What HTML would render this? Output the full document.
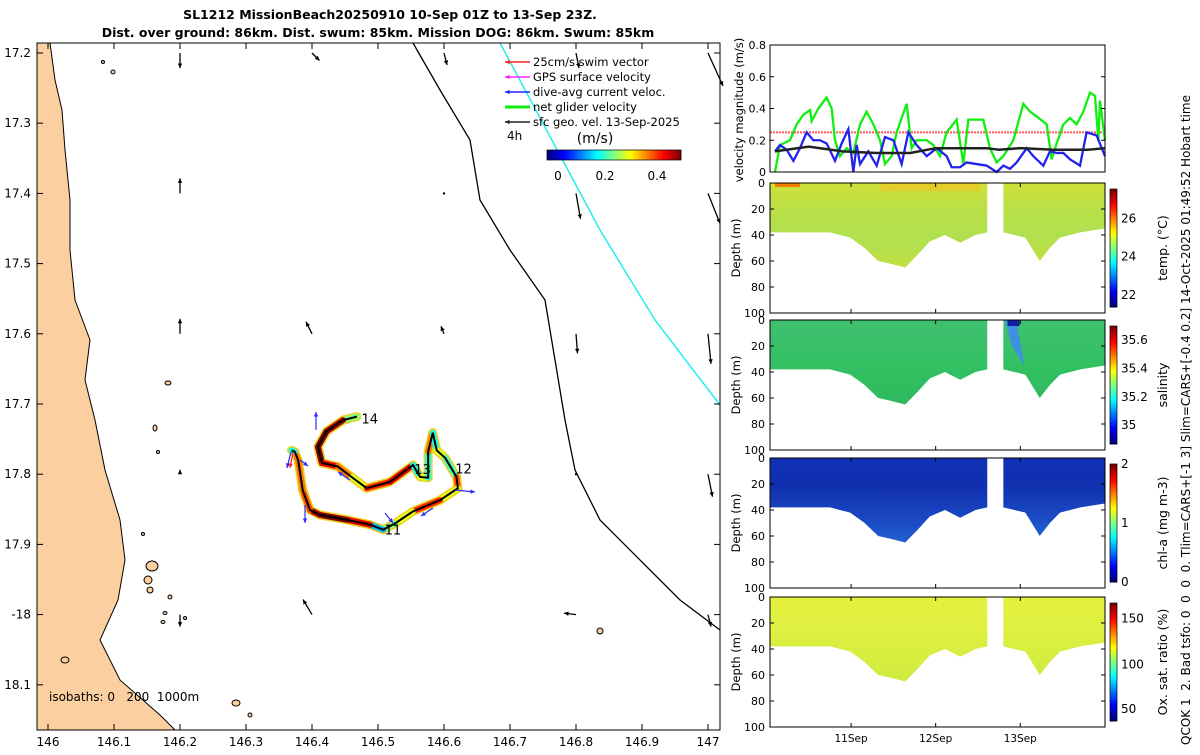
<!DOCTYPE html>
<html><head><meta charset="utf-8"><style>
body{margin:0;background:#fff;width:1200px;height:750px;overflow:hidden;font-family:"Liberation Sans","DejaVu Sans",sans-serif}
svg text{font-family:"DejaVu Sans","Liberation Sans",sans-serif;white-space:pre}
</style></head><body>
<svg id="fig" width="1200" height="750" xmlns="http://www.w3.org/2000/svg"></svg>
<script>
// ---- data ----
const trackLon=[146.468,146.447,146.422,146.409,146.415,146.439,146.460,146.483,146.518,146.553,146.564,146.576,146.576,146.583,146.589,146.602,146.619,146.621,146.594,146.553,146.526,146.508,146.488,146.453,146.412,146.397,146.386,146.379,146.374,146.369];
const trackLat=[17.718,17.723,17.739,17.761,17.784,17.789,17.804,17.820,17.811,17.787,17.804,17.805,17.768,17.741,17.766,17.777,17.804,17.820,17.837,17.853,17.870,17.879,17.872,17.865,17.858,17.851,17.823,17.780,17.768,17.766];
const trackSpeed=[0.25,0.48,0.5,0.5,0.45,0.38,0.3,0.42,0.45,0.2,0.3,0.2,0.38,0.2,0.3,0.22,0.4,0.3,0.42,0.3,0.25,0.15,0.45,0.5,0.48,0.4,0.38,0.38,0.2,0.1];
const dayLabels=["14","13","12","11"];
const dayLon=[146.475,146.555,146.617,146.510];
const dayLat=[17.728,17.800,17.799,17.886];
const geoLon=[146.2,146.4,146.6,146.8,147.0,146.2,146.6,146.8,147.0,146.2,146.4,146.6,146.8,147.0,146.2,146.8,147.0,146.2,146.4,146.8,147.0];
const geoLat=[17.2,17.2,17.2,17.2,17.2,17.4,17.4,17.4,17.4,17.6,17.6,17.6,17.6,17.6,17.8,17.8,17.8,18.0,18.0,18.0,18.0];
const geoU=[0.0,0.05,0.02,0.02,0.1,0,0,0.03,0.08,0,-0.04,-0.02,0.01,0.02,0,0,0.03,0,-0.06,-0.08,0.02];
const geoV=[-0.1,-0.05,-0.08,-0.1,-0.22,0.1,0,-0.17,-0.2,0.1,0.08,0.05,-0.13,-0.2,0.03,0,-0.15,-0.08,0.1,0.01,-0.08];
const velT=[10.101,10.160,10.278,10.357,10.436,10.515,10.534,10.613,10.711,10.771,10.810,10.869,10.948,11.027,11.106,11.184,11.263,11.342,11.401,11.480,11.539,11.657,11.716,11.775,11.894,11.972,12.051,12.130,12.248,12.327,12.386,12.484,12.563,12.642,12.721,12.800,12.918,13.036,13.115,13.194,13.312,13.371,13.430,13.509,13.588,13.666,13.745,13.824,13.883,13.923,13.942,14.001];
const greenV=[0.0,0.17,0.2,0.3,0.36,0.39,0.32,0.4,0.47,0.4,0.2,0.1,0.15,0.12,0.3,0.38,0.3,0.2,0.05,0.1,0.25,0.43,0.15,0.2,0.2,0.17,0.1,0.25,0.33,0.05,0.33,0.33,0.33,0.15,0.06,0.1,0.2,0.43,0.38,0.35,0.3,0.08,0.18,0.3,0.34,0.3,0.38,0.5,0.48,0.2,0.45,0.2];
const blueT=[10.101,10.160,10.239,10.318,10.396,10.475,10.554,10.633,10.711,10.810,10.889,10.968,11.027,11.066,11.106,11.204,11.303,11.401,11.500,11.598,11.677,11.775,11.894,12.012,12.130,12.189,12.288,12.366,12.484,12.603,12.721,12.800,12.878,12.957,13.076,13.154,13.272,13.351,13.430,13.509,13.588,13.706,13.784,13.903,14.001];
const blueV=[0.13,0.17,0.14,0.07,0.15,0.25,0.2,0.2,0.18,0.07,0.18,0.27,0.0,0.17,0.05,0.13,0.04,0.22,0.2,0.05,0.25,0.17,0.1,0.15,0.1,0.03,0.03,0.06,0.05,0.04,0.0,0.04,0.02,0.06,0.15,0.1,0.04,0.13,0.12,0.12,0.08,0.04,0.25,0.23,0.1];
const blackT=[10.10,10.5,10.9,11.3,11.7,12.0,12.3,12.6,12.75,13.0,13.4,13.8,14.0];
const blackV=[0.13,0.16,0.13,0.12,0.12,0.15,0.15,0.15,0.14,0.15,0.14,0.14,0.15];
const botT=[10.04,10.40,10.75,10.99,11.16,11.32,11.46,11.64,11.79,11.93,12.11,12.29,12.47,12.61];
const botD=[38,38,38,42,50,60,62,65,55,45,40,46,40,38];
const bot2T=[12.80,13.06,13.23,13.35,13.47,13.71,14.0];
const bot2D=[38,42,60,50,42,38,35];
const velTicks=[0,0.2,0.4,0.6,0.8];
const depthTicks=[0,20,40,60,80,100];
const lonTicks=[146,146.1,146.2,146.3,146.4,146.5,146.6,146.7,146.8,146.9,147];
const latTicks=[17.2,17.3,17.4,17.5,17.6,17.7,17.8,17.9,18.0,18.1];
const latTickLabels=["17.2","17.3","17.4","17.5","17.6","17.7","17.8","17.9","-18","18.1"];

// ---- helpers ----
const S=document.getElementById('fig');const NS='http://www.w3.org/2000/svg';
function el(tag,attrs,parent,txt){const e=document.createElementNS(NS,tag);for(const k in attrs)e.setAttribute(k,attrs[k]);if(txt!==undefined)e.textContent=txt;(parent||S).appendChild(e);return e;}
function jet(v){v=Math.max(0,Math.min(1,v));const r=Math.min(4*v-1.5,-4*v+4.5),g=Math.min(4*v-0.5,-4*v+3.5),b=Math.min(4*v+0.5,-4*v+2.5);const c=x=>Math.round(255*Math.max(0,Math.min(1,x)));return `rgb(${c(r)},${c(g)},${c(b)})`;}
const mx=lon=>48+(lon-146)*660, my=lat=>53+(lat-17.2)*702;
const tx=d=>770+(d-10.0417)*84.6;

// ---- map ----
const mapG=el('g',{});
el('rect',{x:37,y:43,width:683,height:687,fill:'#fff'},mapG);
const land=el('polygon',{points:'37,43 50,43 55,80 62,110 65,150 70,200 70,250 75,300 90,340 85,380 95,420 105,470 120,520 125,560 118,600 100,640 120,680 160,715 175,730 37,730',fill:'#fbcf9f',stroke:'#000','stroke-width':1},mapG);

[[113,72,2,2],[103,62,1.5,1.5],[168,383,3,2],[155,428,2,3],[158,452,1.5,1.5],[152,566,6,5],[148,580,4,4],[150,590,3,3],[170,597,2,2],[163,622,2,1.5],[185,618,1.5,1.5],[165,613,2,1.5],[65,660,4,3],[236,703,4,3],[250,715,2,2],[600,631,3,3],[143,534,1.5,1.5]].forEach(i=>{const e=el('ellipse',{cx:i[0],cy:i[1],rx:i[2],ry:i[3],fill:'#fbcf9f',stroke:'#000','stroke-width':1},mapG);});
const iso1=el('polyline',{points:'413,43 440,90 470,140 480,200 510,250 545,300 555,360 565,420 575,470 600,520 650,570 680,600 720,630',fill:'none',stroke:'#000','stroke-width':1.3},mapG);

const iso2=el('polyline',{points:'500,43 600,230 655,320 720,405',fill:'none',stroke:'#2ee','stroke-width':1.5},mapG);

function arrow(x1,y1,x2,y2,col,w,g){const a=el('line',{x1,y1,x2,y2,stroke:col,'stroke-width':w},g);const ang=Math.atan2(y2-y1,x2-x1);const h=5;el('polygon',{points:`${x2},${y2} ${x2-h*Math.cos(ang-0.45)},${y2-h*Math.sin(ang-0.45)} ${x2-h*Math.cos(ang+0.45)},${y2-h*Math.sin(ang+0.45)}`,fill:col},g);return a;}
for(let i=0;i<geoLon.length;i++){const x=mx(geoLon[i]),y=my(geoLat[i]);const g=el('g',{},mapG);
 if(Math.abs(geoU[i])+Math.abs(geoV[i])<0.01){el('circle',{cx:x,cy:y,r:1.2,fill:'#000'},g);continue;}
 arrow(x,y,x+geoU[i]*150,y-geoV[i]*150,'#000',1.3,g);}
// track
const trk=el('g',{},mapG);
for(let i=0;i<trackLon.length-1;i++){el('line',{x1:mx(trackLon[i]),y1:my(trackLat[i]),x2:mx(trackLon[i+1]),y2:my(trackLat[i+1]),stroke:'#f0d020','stroke-width':9,'stroke-linecap':'round'},trk);}
for(let i=0;i<trackLon.length-1;i++){el('line',{x1:mx(trackLon[i]),y1:my(trackLat[i]),x2:mx(trackLon[i+1]),y2:my(trackLat[i+1]),stroke:jet(trackSpeed[i]/0.5),'stroke-width':6,'stroke-linecap':'round'},trk);}
el('polyline',{points:trackLon.map((l,i)=>mx(l)+','+my(trackLat[i])).join(' '),fill:'none',stroke:'#000','stroke-width':2},trk);
[[316,430,0,-18],[305,505,0,18],[385,513,8,10],[455,490,20,2],[433,508,-12,8],[291,452,-4,16],[350,480,-12,-8],[300,460,8,6]].forEach(a=>{const g=el('g',{},trk);arrow(a[0],a[1],a[0]+a[2],a[1]+a[3],'#2a2aff',1.2,g);});
arrow(293,452,290,468,'#f22',1.2,trk);
for(let i=0;i<dayLabels.length;i++){const t=el('text',{x:mx(dayLon[i]),y:my(dayLat[i]),'font-size':13},mapG,dayLabels[i]);}
el('rect',{x:37,y:43,width:683,height:687,fill:'none',stroke:'#000','stroke-width':1},mapG);
lonTicks.forEach(l=>{const x=mx(l);el('line',{x1:x,y1:730,x2:x,y2:724,stroke:'#000'},mapG);el('line',{x1:x,y1:43,x2:x,y2:49,stroke:'#000'},mapG);const t=el('text',{x:x,y:746,'font-size':12,'text-anchor':'middle'},mapG,String(l));});
latTicks.forEach((l,i)=>{const y=my(l);el('line',{x1:37,y1:y,x2:43,y2:y,stroke:'#000'},mapG);el('line',{x1:720,y1:y,x2:714,y2:y,stroke:'#000'},mapG);const t=el('text',{x:31,y:y+4,'font-size':12,'text-anchor':'end'},mapG,latTickLabels[i]);});
const isoT=el('text',{x:49,y:701,'font-size':12},mapG,'isobaths: 0\u00a0\u00a0\u00a0200\u00a0\u00a01000m');
// legend
const leg=el('g',{},mapG);
[['#f22','25cm/s swim vector'],['#f2f','GPS surface velocity'],['#22f','dive-avg current veloc.'],['#1e1','net glider velocity'],['#222','sfc geo. vel. 13-Sep-2025']].forEach((e,i)=>{const y=62+i*15;const g=el('g',{},leg);arrow(530,y,505,y,e[0],i==3?3:1.5,g);el('text',{x:533,y:y+4,'font-size':11.5},g,e[1]);});
el('text',{x:507,y:140,'font-size':12},leg,'4h');
el('text',{x:595,y:143,'font-size':14,'text-anchor':'middle'},leg,'(m/s)');
for(let i=0;i<67;i++)el('rect',{x:547+i*2,y:150,width:2.3,height:10,fill:jet(i/66)},leg);
el('rect',{x:547,y:150,width:134,height:10,fill:'none',stroke:'#000','stroke-width':0.7},leg);
[['0',558],['0.2',605],['0.4',657]].forEach(a=>el('text',{x:a[1],y:180,'font-size':12,'text-anchor':'middle'},leg,a[0]));
// title
const t1=el('text',{x:390,y:19,'font-size':12.5,'font-weight':'bold','text-anchor':'middle'},S,'SL1212 MissionBeach20250910 10-Sep 01Z to 13-Sep 23Z.');
const t2=el('text',{x:378,y:37,'font-size':12.5,'font-weight':'bold','text-anchor':'middle'},S,'Dist. over ground: 86km. Dist. swum: 85km. Mission DOG: 86km. Swum: 85km');

// ---- velocity panel ----
const vp=el('g',{});
const vy=v=>172-v/0.8*127;
el('line',{x1:770,x2:1105,y1:vy(0.25),y2:vy(0.25),stroke:'#f55','stroke-width':2,'stroke-dasharray':'2,1'},vp);
const gl=el('polyline',{points:velT.map((t,i)=>tx(t)+','+vy(greenV[i])).join(' '),fill:'none',stroke:'#1e1','stroke-width':2.3},vp);
const bl=el('polyline',{points:blueT.map((t,i)=>tx(t)+','+vy(blueV[i])).join(' '),fill:'none',stroke:'#22e','stroke-width':2.3},vp);
const kl=el('polyline',{points:blackT.map((t,i)=>tx(t)+','+vy(blackV[i])).join(' '),fill:'none',stroke:'#222','stroke-width':2.5},vp);
el('rect',{x:770,y:45,width:335,height:127,fill:'none',stroke:'#000'},vp);
velTicks.forEach(v=>{const y=vy(v);el('line',{x1:770,x2:774,y1:y,y2:y,stroke:'#000'},vp);el('line',{x1:1105,x2:1101,y1:y,y2:y,stroke:'#000'},vp);el('text',{x:766,y:y+4,'font-size':11,'text-anchor':'end'},vp,String(v));});
el('text',{x:0,y:0,'font-size':11.5,'text-anchor':'middle',transform:'translate(743,110) rotate(-90)'},vp,'velocity magnitude (m/s)');

// ---- profile panels ----
const panels=[
 {name:'temperature-panel',top:183,fill:['#d0e038','#b8e048','#b0e050','#c0e040'],label:'temp. (°C)',cb:[['26',0.25],['24',0.57],['22',0.9]]},
 {name:'salinity-panel',top:320,fill:['#40c070','#38c068','#30c060','#30b860'],label:'salinity',cb:[['35.6',0.12],['35.4',0.36],['35.2',0.6],['35',0.84]]},
 {name:'chlorophyll-panel',top:458,fill:['#1030b8','#1030b0','#1844c0','#2060d0'],label:'chl-a (mg m-3)',cb:[['2',0.0],['1',0.5],['0',1.0]]},
 {name:'oxygen-panel',top:597,fill:['#e4f040','#e0f040','#d8ee40','#d0ea40'],label:'Ox. sat. ratio (%)',cb:[['150',0.13],['100',0.52],['50',0.9]]}];
const H=130;
panels.forEach((p,pi)=>{const g=el('g',{});
 const dy=d=>p.top+d/100*H;
 const gid='gr'+pi;const gr=el('linearGradient',{id:gid,x1:0,y1:0,x2:0,y2:1},el('defs',{},g));
 p.fill.forEach((c,i)=>el('stop',{offset:(i/3),'stop-color':c},gr));
 const a1=[tx(botT[0])+','+dy(0)].concat(botT.map((t,i)=>tx(t)+','+dy(botD[i])),[tx(botT[botT.length-1])+','+dy(0)]);
 const s1=el('polygon',{points:a1.join(' '),fill:`url(#${gid})`},g);
 const a2=[tx(bot2T[0])+','+dy(0)].concat(bot2T.map((t,i)=>tx(t)+','+dy(bot2D[i])),[tx(bot2T[bot2T.length-1])+','+dy(0)]);
 const s2=el('polygon',{points:a2.join(' '),fill:`url(#${gid})`},g);
 if(pi==0){el('rect',{x:775,y:dy(0),width:25,height:4,fill:'#f08000'},g);el('rect',{x:880,y:dy(0),width:100,height:8,fill:'#f0c020',opacity:0.6},g);}
 if(pi==1){el('polygon',{points:`${tx(12.82)},${dy(0)} ${tx(12.95)},${dy(0)} ${tx(13.05)},${dy(35)} ${tx(12.9)},${dy(20)}`,fill:'#4090e0'},g);el('rect',{x:tx(12.85),y:dy(0),width:12,height:6,fill:'#1020a0'},g);}
 el('rect',{x:770,y:p.top,width:335,height:H,fill:'none',stroke:'#000'},g);
 depthTicks.forEach(d=>{const y=dy(d);el('line',{x1:770,x2:774,y1:y,y2:y,stroke:'#000'},g);el('line',{x1:1105,x2:1101,y1:y,y2:y,stroke:'#000'},g);el('text',{x:765,y:y+4,'font-size':11,'text-anchor':'end'},g,String(d));});
 [11,12,13].forEach(d=>{el('line',{x1:tx(d),x2:tx(d),y1:p.top+H,y2:p.top+H-4,stroke:'#000'},g);el('line',{x1:tx(d),x2:tx(d),y1:p.top,y2:p.top+4,stroke:'#000'},g);});
 el('text',{x:0,y:0,'font-size':11.5,'text-anchor':'middle',transform:`translate(740,${p.top+H/2}) rotate(-90)`},g,'Depth (m)');
 const cy0=p.top+6,ch=H-12;
 for(let i=0;i<40;i++)el('rect',{x:1110,y:cy0+i*ch/40,width:7,height:ch/40+0.5,fill:jet(1-i/39)},g);
 el('rect',{x:1110,y:cy0,width:7,height:ch,fill:'none',stroke:'#000','stroke-width':0.7},g);
 p.cb.forEach(c=>{const y=cy0+c[1]*ch;el('text',{x:1121,y:y+4,'font-size':12},g,c[0]);});
 el('text',{x:0,y:0,'font-size':12.5,'text-anchor':'middle',transform:`translate(1167,${p.top+H/2}) rotate(-90)`},g,p.label);
});
[['11Sep',11],['12Sep',12],['13Sep',13]].forEach(a=>{const t=el('text',{x:tx(a[1]),y:742,'font-size':10.5,'text-anchor':'middle'},S,a[0]);});
const side=el('text',{x:0,y:0,'font-size':12,'text-anchor':'start',transform:'translate(1190,745) rotate(-90)'},S,'QCOK 1  2. Bad tsfo: 0  0  0  0. Tlim=CARS+[-1 3] Slim=CARS+[-0.4 0.2] 14-Oct-2025 01:49:52 Hobart time');

</script>
</body></html>
